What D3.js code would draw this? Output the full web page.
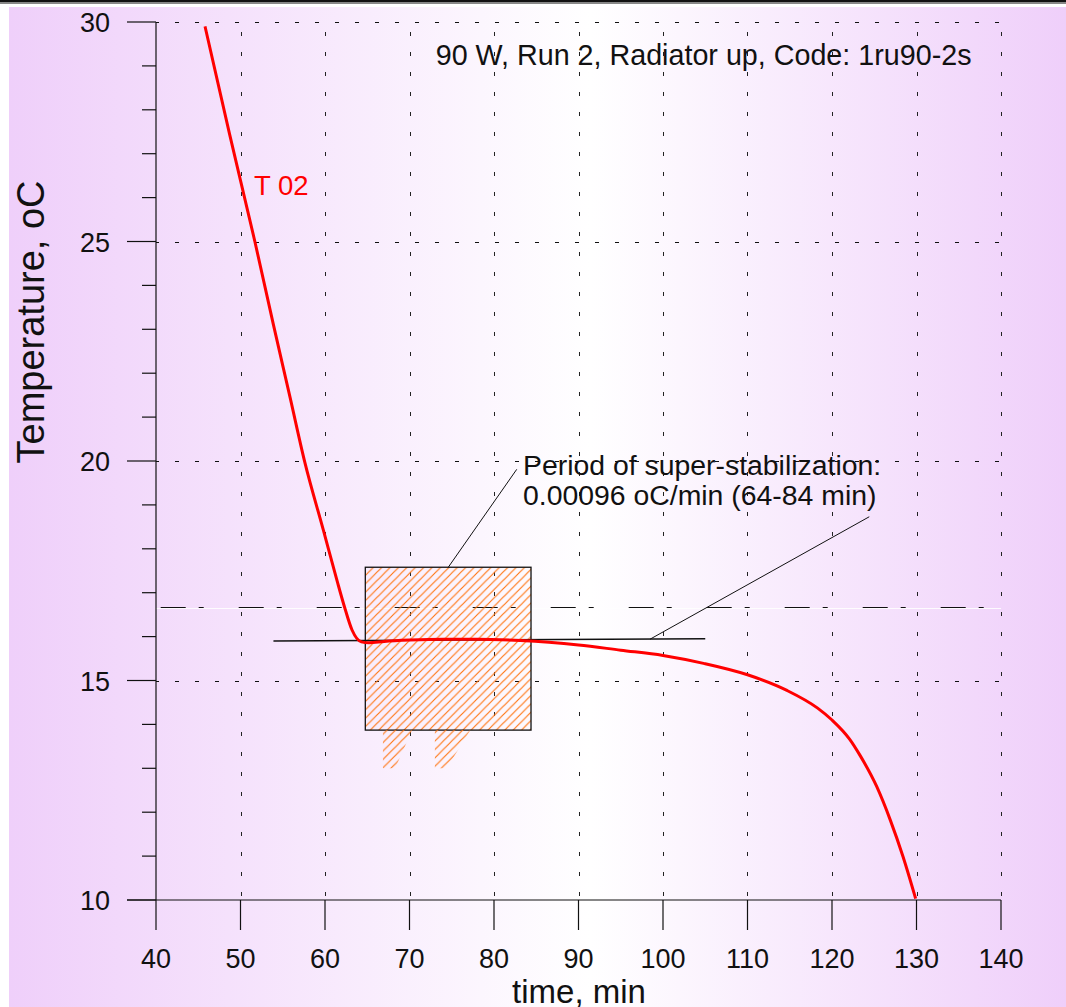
<!DOCTYPE html>
<html><head><meta charset="utf-8">
<script src="https://cdn.jsdelivr.net/npm/d3@7"></script>
<style>body{margin:0;background:#fff}svg{display:block}text{font-family:"Liberation Sans",Arial,sans-serif}</style>
</head><body><svg id="c" width="1066" height="1007"></svg>
<script>
// ---- data ----
const timeMin = [45.8, 48.7, 51.7, 53.9, 55.9, 57.6, 59.8, 61.4, 62.3, 63.2, 64.3, 65.2, 67, 70, 74, 78, 83.1, 86.5, 90, 95, 100, 104.8, 110, 114.6, 118.3, 120, 122.1, 123.3, 125.3, 126.9, 128.4, 129.9];
const tempT02 = [29.9, 27.45, 25.0, 23.1, 21.42, 19.98, 18.43, 17.29, 16.68, 16.15, 15.88, 15.86, 15.89, 15.92, 15.94, 15.94, 15.91, 15.87, 15.81, 15.69, 15.57, 15.39, 15.13, 14.78, 14.37, 14.10, 13.66, 13.30, 12.58, 11.82, 10.99, 10.03];
const xTicks = [40, 50, 60, 70, 80, 90, 100, 110, 120, 130, 140];
const yTicks = [10, 15, 20, 25, 30];
const yMinorTicks = d3.range(10, 31, 1);
const fitLineT = [53.9, 105];
const fitLineV = [15.90, 15.95];
const periodT = [64.77, 84.38];
const periodV = [13.87, 17.58];
const refLevel = 16.68;

const svg = d3.select("#c");
const W = 1066, H = 1007;
const x = d3.scaleLinear().domain([40, 140]).range([156, 1001]);
const y = d3.scaleLinear().domain([10, 30]).range([900, 22]);

// background
const defs = svg.append("defs");
const g = defs.append("linearGradient").attr("id", "bg").attr("x1", 0).attr("x2", 1).attr("y1", 0).attr("y2", 0);
g.append("stop").attr("offset", 0).attr("stop-color", "#efcffa");
g.append("stop").attr("offset", 0.55).attr("stop-color", "#ffffff");
g.append("stop").attr("offset", 1).attr("stop-color", "#efcffa");
svg.append("rect").attr("x", 0).attr("y", 0).attr("width", W).attr("height", H).attr("fill", "#fff");
svg.append("rect").attr("x", 9).attr("y", 7).attr("width", W - 9).attr("height", H - 7).attr("fill", "url(#bg)");
svg.append("rect").attr("x", 0).attr("y", 0).attr("width", W).attr("height", 2.5).attr("fill", "#111");
svg.append("line").attr("x1", 0).attr("x2", W).attr("y1", 3.5).attr("y2", 3.5).attr("stroke", "#888").attr("stroke-width", 1);

// hatch pattern
const pat = defs.append("pattern").attr("id", "hatch").attr("patternUnits", "userSpaceOnUse")
  .attr("width", 8.4).attr("height", 8.4);
pat.append("path").attr("d", "M0,8.4 L8.4,0 M-2,2 L2,-2 M6.4,10.4 L10.4,6.4")
  .attr("stroke", "#ff7410").attr("stroke-width", 1.15);

// grid
const gridG = svg.append("g");
xTicks.filter(v => v > 40).forEach(v => {
  gridG.append("line").attr("x1", Math.round(x(v)) + 0.5).attr("x2", Math.round(x(v)) + 0.5)
    .attr("y1", y(30)).attr("y2", y(10)).attr("stroke", "#222").attr("stroke-width", 1)
    .attr("stroke-dasharray", "4,16").attr("stroke-dashoffset", 10);
});
yTicks.filter(v => v > 10).forEach(v => {
  gridG.append("line").attr("x1", x(40)).attr("x2", x(140))
    .attr("y1", Math.round(y(v)) + 0.5).attr("y2", Math.round(y(v)) + 0.5).attr("stroke", "#111").attr("stroke-width", 1)
    .attr("stroke-dasharray", "4,16").attr("stroke-dashoffset", 1);
});

// reference dash-dot level
svg.append("line").attr("x1", x(40)).attr("x2", x(140))
  .attr("y1", Math.round(y(refLevel)) + 1.5).attr("y2", Math.round(y(refLevel)) + 1.5)
  .attr("stroke", "#fff").attr("stroke-width", 1).attr("opacity", 0.9);
svg.append("line").attr("x1", x(40)).attr("x2", x(140))
  .attr("y1", Math.round(y(refLevel)) + 0.5).attr("y2", Math.round(y(refLevel)) + 0.5)
  .attr("stroke", "#111").attr("stroke-width", 1.2)
  .attr("stroke-dasharray", "25,13,5,35").attr("stroke-dashoffset", -4.7);

// hatched rectangle
svg.append("rect").attr("x", x(periodT[0])).attr("y", y(periodV[1]))
  .attr("width", x(periodT[1]) - x(periodT[0])).attr("height", y(periodV[0]) - y(periodV[1]))
  .attr("fill", "url(#hatch)").attr("stroke", "#111").attr("stroke-width", 1.3);
// stray hatch fragments below the rectangle
const stray = [
  [[66.86, 13.87], [70.3, 13.87], [68.3, 13.0], [66.86, 13.0]],
  [[73.0, 13.87], [77.2, 13.87], [74.4, 13.0], [73.0, 13.0]]
];
stray.forEach(p => {
  svg.append("path").attr("d", d3.line().x(d => x(d[0])).y(d => y(d[1]))(p) + "Z").attr("fill", "url(#hatch)");
});

// axes
const axG = svg.append("g").attr("stroke", "#111").attr("stroke-width", 1.2);
axG.append("line").attr("x1", x(40)).attr("x2", x(40)).attr("y1", y(30)).attr("y2", y(10));
axG.append("line").attr("x1", 127).attr("x2", x(140)).attr("y1", y(10)).attr("y2", y(10));
yMinorTicks.forEach(v => {
  const major = yTicks.includes(v);
  axG.append("line").attr("x1", major ? 127 : 142).attr("x2", x(40)).attr("y1", y(v)).attr("y2", y(v));
});
xTicks.forEach(v => {
  axG.append("line").attr("x1", x(v)).attr("x2", x(v)).attr("y1", y(10)).attr("y2", y(10) + 30);
});
svg.append("g").selectAll("text").data(yTicks).join("text")
  .attr("x", 110).attr("y", d => y(d) + 10).attr("text-anchor", "end")
  .attr("font-size", 27).attr("fill", "#111").text(d => d);
svg.append("g").selectAll("text").data(xTicks).join("text")
  .attr("x", d => x(d)).attr("y", 968).attr("text-anchor", "middle")
  .attr("font-size", 27).attr("fill", "#111").text(d => d);
svg.append("text").attr("transform", "translate(44,322) rotate(-90)").attr("text-anchor", "middle")
  .attr("font-size", 38).attr("fill", "#111").text("Temperature, oC");
svg.append("text").attr("x", 579).attr("y", 1003).attr("text-anchor", "middle")
  .attr("font-size", 33).attr("fill", "#111").text("time, min");

// fit line
svg.append("line").attr("x1", x(fitLineT[0])).attr("x2", x(fitLineT[1]))
  .attr("y1", y(fitLineV[0])).attr("y2", y(fitLineV[1])).attr("stroke", "#111").attr("stroke-width", 1.6);

// curve
const pts = timeMin.map((t, i) => [t, tempT02[i]]);
svg.append("path").attr("d", d3.line().x(d => x(d[0])).y(d => y(d[1])).curve(d3.curveMonotoneX)(pts))
  .attr("fill", "none").attr("stroke", "#ff0000").attr("stroke-width", 3);

// annotations
svg.append("line").attr("x1", x(82.69)).attr("y1", y(19.81)).attr("x2", x(74.59)).attr("y2", y(periodV[1]))
  .attr("stroke", "#111").attr("stroke-width", 1);
svg.append("line").attr("x1", x(124.41)).attr("y1", y(18.73)).attr("x2", x(98.46)).attr("y2", y(15.94))
  .attr("stroke", "#111").attr("stroke-width", 1);
svg.append("text").attr("x", x(83.43)).attr("y", 475).attr("font-size", 28.4).attr("fill", "#111")
  .text("Period of super-stabilization:");
svg.append("text").attr("x", x(83.43)).attr("y", 505).attr("font-size", 28.4).attr("fill", "#111")
  .text("0.00096 oC/min (64-84 min)");
svg.append("text").attr("x", x(73.1)).attr("y", 65).attr("font-size", 28.7).attr("fill", "#111")
  .text("90 W, Run 2, Radiator up, Code: 1ru90-2s");
svg.append("text").attr("x", x(51.6)).attr("y", 195).attr("font-size", 27.5).attr("fill", "#ff0000")
  .text("T 02");
</script></body></html>
